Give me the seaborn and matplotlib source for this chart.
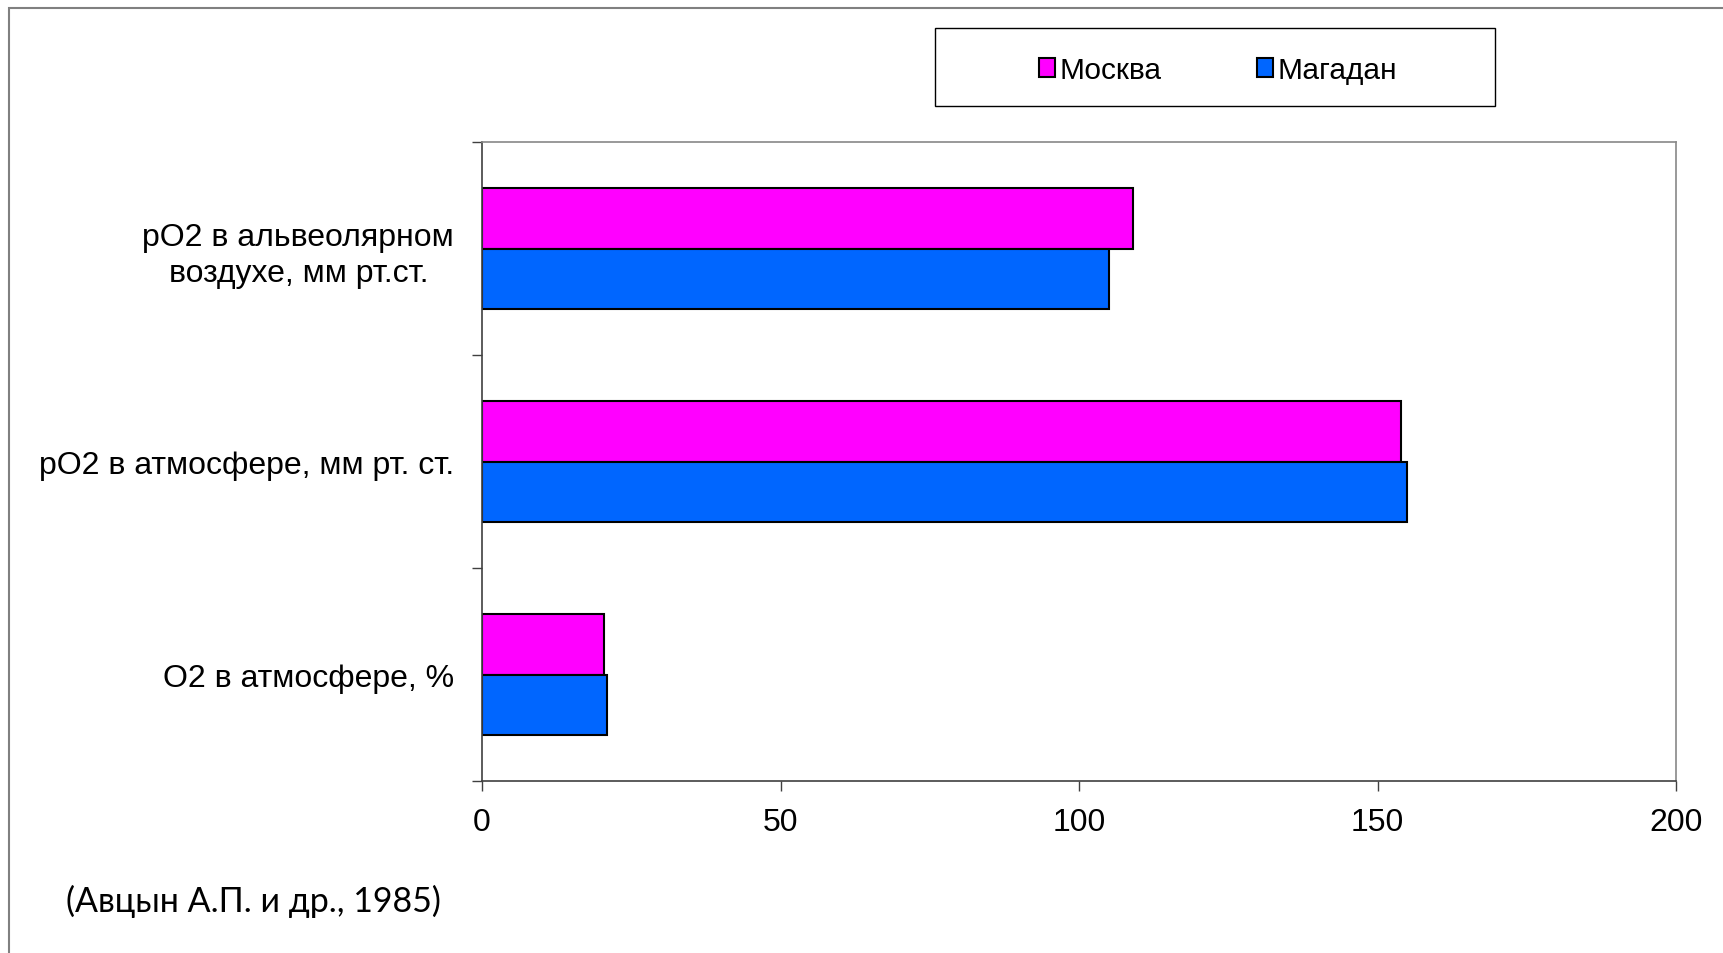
import matplotlib
matplotlib.use("Agg")
import matplotlib.pyplot as plt
from matplotlib.patches import Rectangle, Patch
from matplotlib.ticker import FixedLocator
import seaborn as sns
import pandas as pd

categories = ["pO2 в альвеолярном\nвоздухе, мм рт.ст.",
              "pO2 в атмосфере, мм рт. ст.",
              "O2 в атмосфере, %"]
series_names = ["Москва", "Магадан"]
moscow = [109, 154, 20.5]
magadan = [105, 155, 21]
x_ticks = [0, 50, 100, 150, 200]
colors = ["#FF00FF", "#0066FF"]
citation = "(Авцын А.П. и др., 1985)"

df = pd.DataFrame({
    "cat": categories * 2,
    "city": [series_names[0]] * 3 + [series_names[1]] * 3,
    "val": moscow + magadan,
})

sns.set_theme(style="white")
plt.rcParams["font.family"] = ["Liberation Sans", "DejaVu Sans"]
plt.rcParams["text.color"] = "black"
plt.rcParams["xtick.color"] = "black"
plt.rcParams["ytick.color"] = "black"

fig = plt.figure(figsize=(17.23, 9.54), dpi=100)
fig.patch.set_facecolor("white")
ax = fig.add_axes([482/1723, 1-782/954, (1676-482)/1723, (782-143)/954])

sns.barplot(data=df, y="cat", x="val", hue="city", order=categories,
            hue_order=series_names, palette=colors, orient="h",
            width=0.57, gap=0, edgecolor="black", linewidth=1.5,
            saturation=1, ax=ax, legend=False)

ax.set_xlim(0, 200)
ax.set_ylim(2.5, -0.5)
ax.set_xlabel("")
ax.set_ylabel("")
ax.set_xticks(x_ticks)
ax.set_xticklabels([str(t) for t in x_ticks], fontsize=23)
ax.tick_params(axis="x", direction="out", length=7, width=1, color="#404040",
               labelcolor="black", pad=12, bottom=True)
ax.tick_params(axis="y", which="major", length=0, pad=20, labelsize=23,
               labelcolor="black")
ax.yaxis.set_minor_locator(FixedLocator([-0.5, 0.5, 1.5, 2.5]))
ax.tick_params(axis="y", which="minor", direction="out", length=7, width=1,
               color="#404040", left=True)
for lbl in ax.get_yticklabels():
    lbl.set_multialignment("center")
    lbl.set_linespacing(1.25)
    lbl.set_y(lbl.get_position()[1])

for s in ["left", "bottom"]:
    ax.spines[s].set_color("#404040")
    ax.spines[s].set_linewidth(1.2)
for s in ["top", "right"]:
    ax.spines[s].set_color("#888888")
    ax.spines[s].set_linewidth(1.2)
    ax.spines[s].set_visible(True)

# outer frame of the picture
fig.patches.append(Rectangle((9/1723, -0.1), 1.2, 1.1 - 9/954, transform=fig.transFigure,
                             fill=False, edgecolor="#808080", linewidth=1.5))

# legend box
fig.patches.append(Rectangle((935/1723, 1-107/954), 560/1723, 78/954,
                             transform=fig.transFigure, fill=False,
                             edgecolor="black", linewidth=1))
handles = [Patch(facecolor=c, edgecolor="black", linewidth=1.5) for c in colors]
leg = fig.legend(handles, series_names, loc="center", bbox_to_anchor=(1218/1723, 1-71/954),
                 ncol=2, frameon=False, handlelength=0.55, handleheight=0.6,
                 handletextpad=0.15, columnspacing=3.2,
                 prop={"family": ["Liberation Sans Narrow", "Liberation Sans"], "size": 21.5})
for t in leg.get_texts():
    t.set_color("black")

fig.text(66/1723, 1-901/954, citation, ha="left", va="center", color="black",
         fontsize=24.5, family=["Lato", "DejaVu Sans"])

fig.savefig("out.png", dpi=100, facecolor="white")
